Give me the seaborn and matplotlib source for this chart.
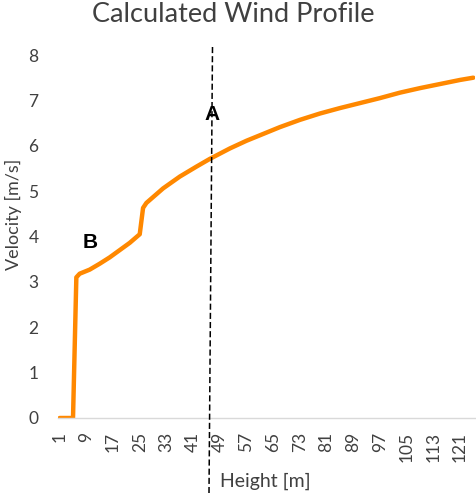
import matplotlib
matplotlib.use("Agg")
import matplotlib.pyplot as plt
import seaborn as sns
from matplotlib.lines import Line2D

# Data
heights = [1, 5, 6, 7, 10, 13, 16, 19, 22, 25, 26, 27, 32, 37, 42, 46, 52, 57,
           61, 67, 73, 79, 85, 91, 97, 103, 109, 115, 121, 125]
velocity = [0.0, 0.0, 3.10, 3.18, 3.27, 3.40, 3.54, 3.70, 3.86, 4.05, 4.63, 4.74,
            5.06, 5.32, 5.54, 5.71, 5.94, 6.11, 6.23, 6.41, 6.57, 6.71, 6.83,
            6.94, 7.05, 7.17, 7.27, 7.36, 7.45, 7.50]
x_ticks = list(range(1, 122, 8))
y_ticks = list(range(0, 9))

title = "Calculated Wind Profile"
x_label = "Height [m]"
y_label = "Velocity [m/s]"

sns.set_theme(style="white")
plt.rcParams['font.family'] = ['Lato', 'DejaVu Sans']

W, H = 477, 493
fig = plt.figure(figsize=(W / 100, H / 100), dpi=100)
ax = fig.add_axes([58 / W, 75 / H, (475 - 58) / W, (418 - 55) / H])

sns.lineplot(x=heights, y=velocity, ax=ax, color="#FF8800", linewidth=3.2,
             sort=False)
for ln in ax.get_lines():
    ln.set_solid_capstyle("round")
    ln.set_solid_joinstyle("round")

ax.set_xlim(0.5, 125.5)
ax.set_ylim(0, 8)
ax.set_xticks(x_ticks)
ax.set_xticklabels([str(t) for t in x_ticks], rotation=90)
ax.set_yticks(y_ticks)
ax.tick_params(axis="both", length=0, labelsize=12.5, colors="#404040")
ax.tick_params(axis="x", pad=10)
ax.tick_params(axis="y", pad=14)
ax.set_xlabel("")
ax.set_ylabel("")
ax.grid(False)
for side in ["left", "right", "top"]:
    ax.spines[side].set_visible(False)
ax.spines["bottom"].set_color("#D9D9D9")
ax.spines["bottom"].set_linewidth(1.0)

# Titles and axis labels
fig.text(233.5 / W, 1 - 14 / H, title, ha="center", va="center",
         fontsize=19.5, color="#404040")
fig.text(13 / W, 1 - 214 / H, y_label, rotation=90, ha="center", va="center",
         fontsize=13, color="#404040")
fig.text(265 / W, 1 - 481 / H, x_label, ha="center", va="center",
         fontsize=14, color="#404040")

# Annotations
fig.text(212.5 / W, 1 - 114 / H, "A", ha="center", va="center", fontsize=15,
         fontweight="bold", family=["Liberation Sans", "DejaVu Sans"], color="black")
fig.text(90.3 / W, 1 - 243 / H, "B", ha="center", va="center", fontsize=15,
         fontweight="bold", family=["Liberation Sans", "DejaVu Sans"], color="black")

# Dashed marker line
fig.add_artist(Line2D([212.5 / W, 209 / W], [1 - 47 / H, 0.0],
                      transform=fig.transFigure, color="black",
                      linewidth=1.1, linestyle=(0, (4, 2))))

fig.savefig("out.png", dpi=100)
